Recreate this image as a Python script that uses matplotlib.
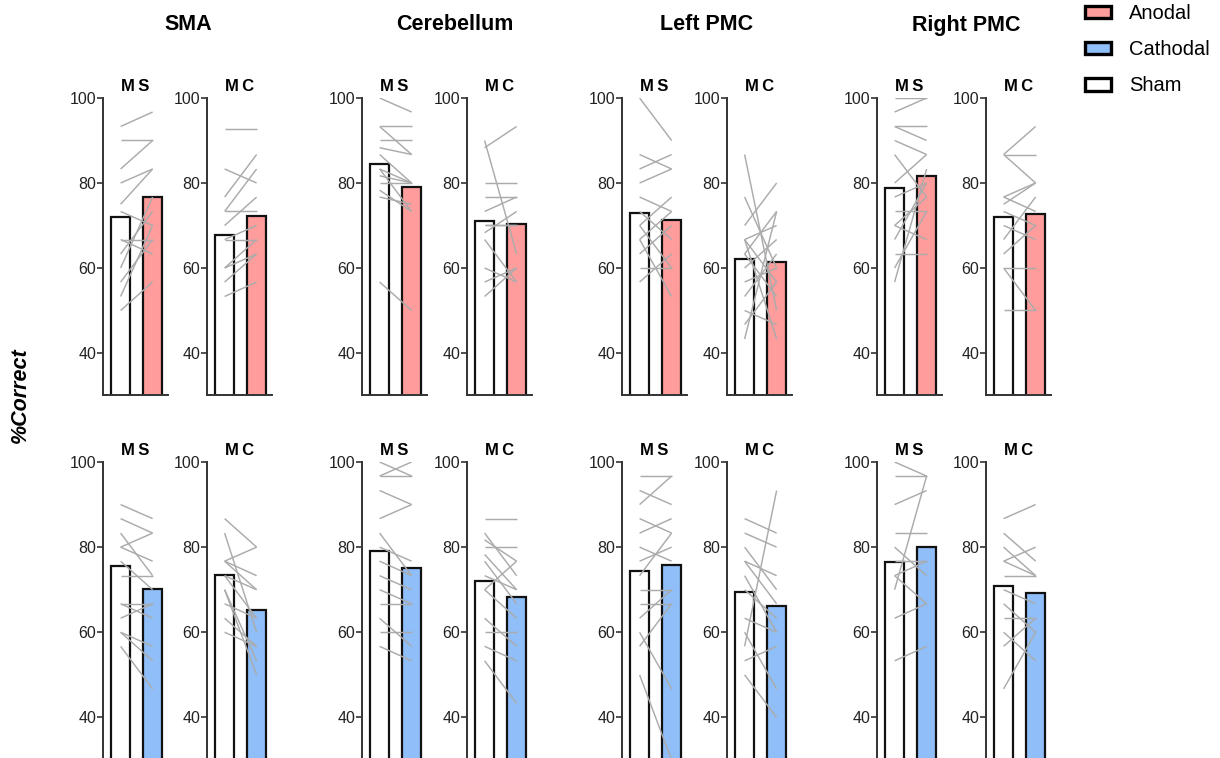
import matplotlib
matplotlib.use("Agg")
import matplotlib.pyplot as plt
from matplotlib.patches import Patch

plt.rcParams['font.family'] = ['Liberation Sans', 'DejaVu Sans']

regions = ["SMA", "Cerebellum", "Left PMC", "Right PMC"]
tasks = ["MS", "MC"]
conditions = ["Sham", "Anodal", "Cathodal"]
yticks = [40, 60, 80, 100]

# bar heights (group means), order: SMA MS, SMA MC, Cer MS, Cer MC, LPMC MS, LPMC MC, RPMC MS, RPMC MC
top_sham_bars = [72.1, 67.8, 84.4, 71.1, 73.0, 62.0, 78.8, 71.9]
top_anodal_bars = [76.7, 72.3, 79.1, 70.4, 71.4, 61.5, 81.7, 72.6]
bot_sham_bars = [75.5, 73.5, 79.2, 72.1, 74.3, 69.4, 76.5, 70.8]
bot_cathodal_bars = [70.2, 65.3, 75.1, 68.3, 75.8, 66.1, 80.0, 69.2]

# individual subjects, anodal row
sma_ms_a_sham = [93.3, 90, 83.3, 80, 75, 73.3, 66.7, 66.7, 63.3, 60, 56.7, 53.3, 50]
sma_ms_a_stim = [96.7, 90, 90, 83.3, 83.3, 70, 66.7, 63.3, 73.3, 76.7, 66.7, 70, 56.7]
sma_mc_a_sham = [92.6, 76.7, 83.3, 73.3, 73.3, 66.7, 70, 66.7, 60, 60, 56.7, 53.3]
sma_mc_a_stim = [92.6, 86.7, 80, 83.3, 73.3, 66.7, 76.7, 70, 63.3, 66.7, 63.3, 56.7]
cer_ms_a_sham = [100, 93.3, 93.3, 90, 88.3, 86.7, 83.3, 81.7, 80, 76.7, 83.3, 78.3, 56.7]
cer_ms_a_stim = [96.7, 93.3, 86.7, 90, 86.7, 80, 80, 80, 80, 75, 73.3, 73.3, 50]
cer_mc_a_sham = [88.3, 90, 80, 76.7, 73.3, 70, 70, 66.7, 60, 53.3, 56.7, 68.3]
cer_mc_a_stim = [93.3, 63.3, 80, 76.7, 76.7, 70, 70, 56.7, 56.7, 60, 60, 73.3]
lpmc_ms_a_sham = [100, 86.7, 83.3, 80, 76.7, 70, 66.7, 70, 66.7, 63.3, 60, 56.7, 73.3]
lpmc_ms_a_stim = [90, 83.3, 86.7, 83.3, 73.3, 76.7, 73.3, 60, 53.3, 70, 60, 63.3, 66.7]
lpmc_mc_a_sham = [86.7, 76.7, 70, 66.7, 66.7, 63.3, 63.3, 60, 56.7, 53.3, 50, 46.7, 43.3, 66.7]
lpmc_mc_a_stim = [50, 60, 80, 56.7, 70, 73.3, 53.3, 66.7, 60, 63.3, 46.7, 56.7, 73.3, 43.3]
rpmc_ms_a_sham = [100, 96.7, 93.3, 93.3, 90, 80, 86.7, 76.7, 73.3, 70, 70, 66.7, 63.3, 60, 56.7]
rpmc_ms_a_stim = [100, 100, 93.3, 90, 86.7, 86.7, 76.7, 80, 73.3, 76.7, 66.7, 80, 63.3, 73.3, 83.3]
rpmc_mc_a_sham = [86.7, 86.7, 86.7, 76.7, 76.7, 75, 73.3, 70, 63.3, 60, 60, 50, 66.7]
rpmc_mc_a_stim = [93.3, 86.7, 80, 80, 73.3, 80, 70, 66.7, 70, 60, 50, 50, 76.7]

# individual subjects, cathodal row
sma_ms_c_sham = [90, 86.7, 83.3, 80, 80, 76.7, 73.3, 66.7, 66.7, 63.3, 60, 60, 56.7]
sma_ms_c_stim = [86.7, 83.3, 73.3, 83.3, 76.7, 70, 73.3, 66.7, 63.3, 66.7, 53.3, 56.7, 46.7]
sma_mc_c_sham = [86.7, 83.3, 76.7, 76.7, 76.7, 73.3, 70, 66.7, 63.3, 60, 73.3, 70]
sma_mc_c_stim = [80, 60, 80, 73.3, 70, 63.3, 53.3, 63.3, 56.7, 56.7, 70, 50]
cer_ms_c_sham = [100, 96.7, 96.7, 93.3, 86.7, 83.3, 80, 76.7, 73.3, 70, 66.7, 63.3, 60, 56.7]
cer_ms_c_stim = [96.7, 100, 96.7, 90, 90, 73.3, 76.7, 73.3, 70, 66.7, 66.7, 56.7, 60, 53.3]
cer_mc_c_sham = [86.7, 83.3, 81.7, 80, 78.3, 76.7, 73.3, 70, 63.3, 60, 56.7, 53.3, 70]
cer_mc_c_stim = [86.7, 73.3, 76.7, 80, 70, 66.7, 70, 63.3, 56.7, 60, 53.3, 43.3, 76.7]
lpmc_ms_c_sham = [96.7, 93.3, 90, 86.7, 83.3, 80, 76.7, 70, 66.7, 63.3, 60, 56.7, 50, 73.3]
lpmc_ms_c_stim = [96.7, 90, 96.7, 83.3, 86.7, 76.7, 80, 70, 66.7, 70, 46.7, 66.7, 30, 83.3]
lpmc_mc_c_sham = [86.7, 83.3, 80, 76.7, 76.7, 73.3, 63.3, 56.7, 53.3, 50, 60, 70]
lpmc_mc_c_stim = [83.3, 80, 70, 73.3, 66.7, 60, 60, 93.3, 56.7, 40, 46.7, 63.3]
rpmc_ms_c_sham = [100, 96.7, 90, 83.3, 80, 76.7, 73.3, 73.3, 63.3, 53.3, 70]
rpmc_ms_c_stim = [96.7, 96.7, 93.3, 83.3, 73.3, 76.7, 76.7, 66.7, 66.7, 56.7, 96.7]
rpmc_mc_c_sham = [86.7, 83.3, 80, 76.7, 76.7, 73.3, 70, 66.7, 63.3, 60, 56.7, 46.7]
rpmc_mc_c_stim = [90, 76.7, 73.3, 80, 73.3, 73.3, 66.7, 60, 63.3, 53.3, 63.3, 60]

top_subjects = [
    (sma_ms_a_sham, sma_ms_a_stim), (sma_mc_a_sham, sma_mc_a_stim),
    (cer_ms_a_sham, cer_ms_a_stim), (cer_mc_a_sham, cer_mc_a_stim),
    (lpmc_ms_a_sham, lpmc_ms_a_stim), (lpmc_mc_a_sham, lpmc_mc_a_stim),
    (rpmc_ms_a_sham, rpmc_ms_a_stim), (rpmc_mc_a_sham, rpmc_mc_a_stim),
]
bot_subjects = [
    (sma_ms_c_sham, sma_ms_c_stim), (sma_mc_c_sham, sma_mc_c_stim),
    (cer_ms_c_sham, cer_ms_c_stim), (cer_mc_c_sham, cer_mc_c_stim),
    (lpmc_ms_c_sham, lpmc_ms_c_stim), (lpmc_mc_c_sham, lpmc_mc_c_stim),
    (rpmc_ms_c_sham, rpmc_ms_c_stim), (rpmc_mc_c_sham, rpmc_mc_c_stim),
]

ANODAL = "#FF9C9C"
CATHODAL = "#8FBEF8"
LINE = "#ABABAB"
SPINE = "#333333"

W, H = 1220, 758
fig = plt.figure(figsize=(W / 100, H / 100), dpi=100)

ms_lefts = [103, 362, 622, 877]
mc_lefts = [207, 467, 727, 986]
title_x = [188, 455, 707, 966]
panel_w = 65
rows = [
    dict(top=98, bottom=395.5, sham=top_sham_bars, stim=top_anodal_bars,
         subj=top_subjects, color=ANODAL),
    dict(top=462, bottom=760, sham=bot_sham_bars, stim=bot_cathodal_bars,
         subj=bot_subjects, color=CATHODAL),
]

for row in rows:
    for g in range(4):
        for t in range(2):
            idx = g * 2 + t
            left = (ms_lefts if t == 0 else mc_lefts)[g]
            ax = fig.add_axes([left / W, 1 - row['bottom'] / H,
                               panel_w / W, (row['bottom'] - row['top']) / H])
            ax.bar([0, 1], [row['sham'][idx], row['stim'][idx]], width=0.6,
                   color=["white", row['color']], edgecolor="#111111",
                   linewidth=1.6, zorder=1)
            sham_v, stim_v = row['subj'][idx]
            for a, b in zip(sham_v, stim_v):
                ax.plot([0, 1], [a, b], color=LINE, lw=1.05, zorder=3,
                        solid_capstyle='butt')
            ax.set_ylim(30, 100)
            ax.set_xlim(-0.55, 1.48)
            ax.set_yticks(yticks)
            ax.set_xticks([])
            ax.tick_params(axis='y', direction='out', length=4, width=1.2,
                           color=SPINE, labelsize=11.5, pad=1,
                           labelcolor="#222222")
            for s in ['top', 'right']:
                ax.spines[s].set_visible(False)
            for s in ['left', 'bottom']:
                ax.spines[s].set_color(SPINE)
                ax.spines[s].set_linewidth(1.4)
            ax.patch.set_alpha(0)
            ax.text(0.5, 1.037, "\u2009".join(tasks[t]), transform=ax.transAxes,
                    ha='center', va='center', fontsize=12, fontweight='bold')

for g, name in enumerate(regions):
    fig.text(title_x[g] / W, 1 - 25 / H, name, ha='center', va='center',
             fontsize=15.5, fontweight='bold')

fig.text(20 / W, 1 - 395 / H, "%Correct", rotation=90, ha='center',
         va='center', fontsize=15.5, fontweight='bold', fontstyle='italic')

handles = [Patch(facecolor=ANODAL, edgecolor='black', linewidth=2.4, label=conditions[1]),
           Patch(facecolor=CATHODAL, edgecolor='black', linewidth=2.4, label=conditions[2]),
           Patch(facecolor='white', edgecolor='black', linewidth=2.4, label=conditions[0])]
fig.legend(handles=handles, loc='upper left', bbox_to_anchor=(1085 / W, 1 - 4 / H),
           frameon=False, fontsize=14.5, handlelength=1.3, handleheight=0.6,
           handletextpad=0.9, labelspacing=0.85, borderpad=0, borderaxespad=0)

fig.savefig("out.png", dpi=100)
